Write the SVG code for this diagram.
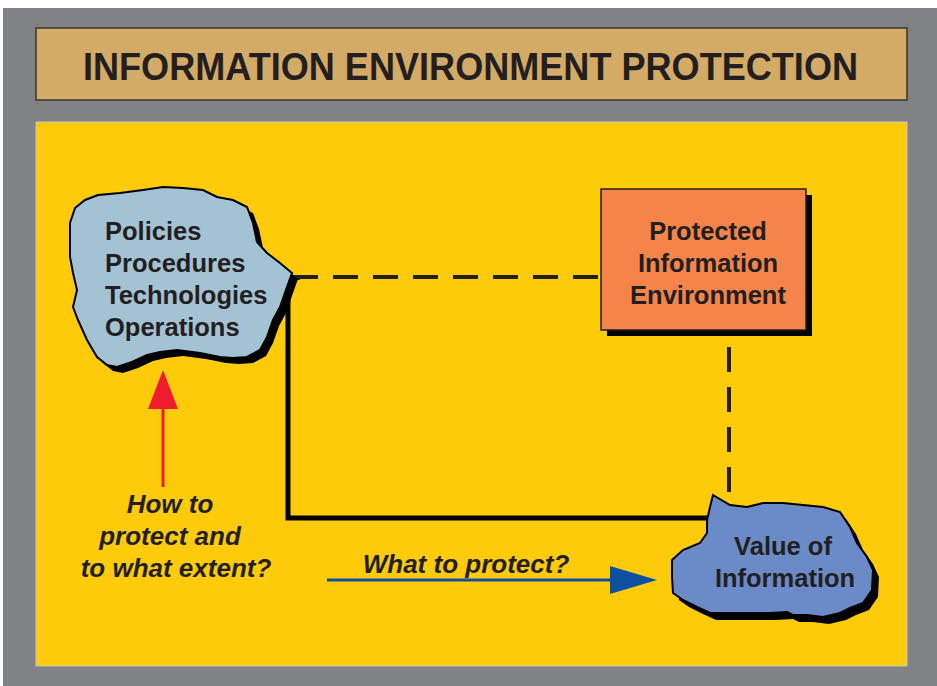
<svg xmlns="http://www.w3.org/2000/svg" width="937" height="686" viewBox="0 0 937 686">
<defs>
<style>
.t{font-family:"Liberation Sans",Arial,sans-serif;font-weight:bold;fill:#231f20}
.lbl{font-size:25.5px}
.it{font-style:italic;font-size:26px}
.dash{fill:none;stroke:#231f20;stroke-width:4;stroke-dasharray:25 15}
</style>
<path id="cloudA" d="M75,208 L85,200 L98,195 L120,193 L143,190 L163,187 L183,188 L203,190 L217,197 L233,200 L247,207 L253,223 L257,242 L267,253 L280,263 L292,273 L287,287 L280,307 L273,320 L267,337 L260,350 L247,357 L233,358 L220,357 L200,353 L177,350 L160,352 L147,355 L132,362 L117,367 L107,365 L97,357 L87,340 L78,320 L73,307 L77,290 L73,273 L70,257 L70,240 L70,223 Z"/>
<path id="cloudB" d="M713,495 L730,505 L747,507 L763,503 L783,503 L803,505 L823,507 L840,512 L850,527 L857,543 L867,557 L873,570 L872,590 L863,603 L850,608 L840,613 L823,617 L807,615 L793,615 L787,612 L770,613 L750,613 L730,613 L710,613 L697,607 L683,600 L673,593 L672,577 L672,560 L683,550 L700,543 L707,533 L707,520 L710,507 Z"/>
</defs>
<rect x="0" y="0" width="937" height="686" fill="#ffffff"/>
<rect x="3" y="8" width="934" height="678" fill="#808285"/>
<g id="title">
<rect x="36" y="28" width="871" height="72" fill="#d3aa66" stroke="#3a3530" stroke-width="1.5"/>
<text class="t" x="83" y="80" font-size="39" textLength="775" lengthAdjust="spacingAndGlyphs">INFORMATION ENVIRONMENT PROTECTION</text>
</g>
<rect id="panel" x="36" y="122" width="871" height="544" fill="#fecb0a" stroke="#c8c8c0" stroke-width="1"/>
<g id="connectors">
<path class="dash" d="M293,277 L600,277"/>
<path class="dash" d="M729,347 L729,492"/>
<path d="M288,278 L288,518 L712,518" fill="none" stroke="#000" stroke-width="5"/>
<path d="M285,278 L300,278" fill="none" stroke="#231f20" stroke-width="4"/>
<line x1="163" y1="487" x2="163" y2="405" stroke="#ee1c2e" stroke-width="3"/>
<path d="M163,370 L178,409 L148,409 Z" fill="#ee1c2e"/>
<line x1="327" y1="580" x2="615" y2="580" stroke="#0d4fa0" stroke-width="3"/>
<path d="M657,580 L610,566 L610,594 Z" fill="#0d4fa0"/>
</g>
<g id="policies">
<use href="#cloudA" transform="translate(6,6)" fill="#000"/>
<use href="#cloudA" fill="#a3c2d3" stroke="#000" stroke-width="2"/>
<text class="t lbl" x="105" y="240">Policies</text>
<text class="t lbl" x="105" y="272">Procedures</text>
<text class="t lbl" x="105" y="304">Technologies</text>
<text class="t lbl" x="105" y="336">Operations</text>
</g>
<g id="protected">
<rect x="607" y="195" width="205" height="141" fill="#000"/>
<rect x="601" y="189" width="205" height="141" fill="#f5844a" stroke="#231f20" stroke-width="1.5"/>
<text class="t lbl" x="708" y="240" text-anchor="middle">Protected</text>
<text class="t lbl" x="708" y="272" text-anchor="middle">Information</text>
<text class="t lbl" x="708" y="304" text-anchor="middle">Environment</text>
</g>
<g id="value">
<use href="#cloudB" transform="translate(6,7)" fill="#000"/>
<use href="#cloudB" fill="#6a8ac8" stroke="#000" stroke-width="2"/>
<text class="t lbl" x="783" y="555" text-anchor="middle">Value of</text>
<text class="t lbl" x="785" y="587" text-anchor="middle">Information</text>
</g>
<g id="how">
<text class="t it" x="170" y="513" text-anchor="middle">How to</text>
<text class="t it" x="170" y="545" text-anchor="middle">protect and</text>
<text class="t it" x="176" y="577" text-anchor="middle">to what extent?</text>
</g>
<g id="what">
<text class="t it" x="466" y="573" text-anchor="middle">What to protect?</text>
</g>
</svg>
